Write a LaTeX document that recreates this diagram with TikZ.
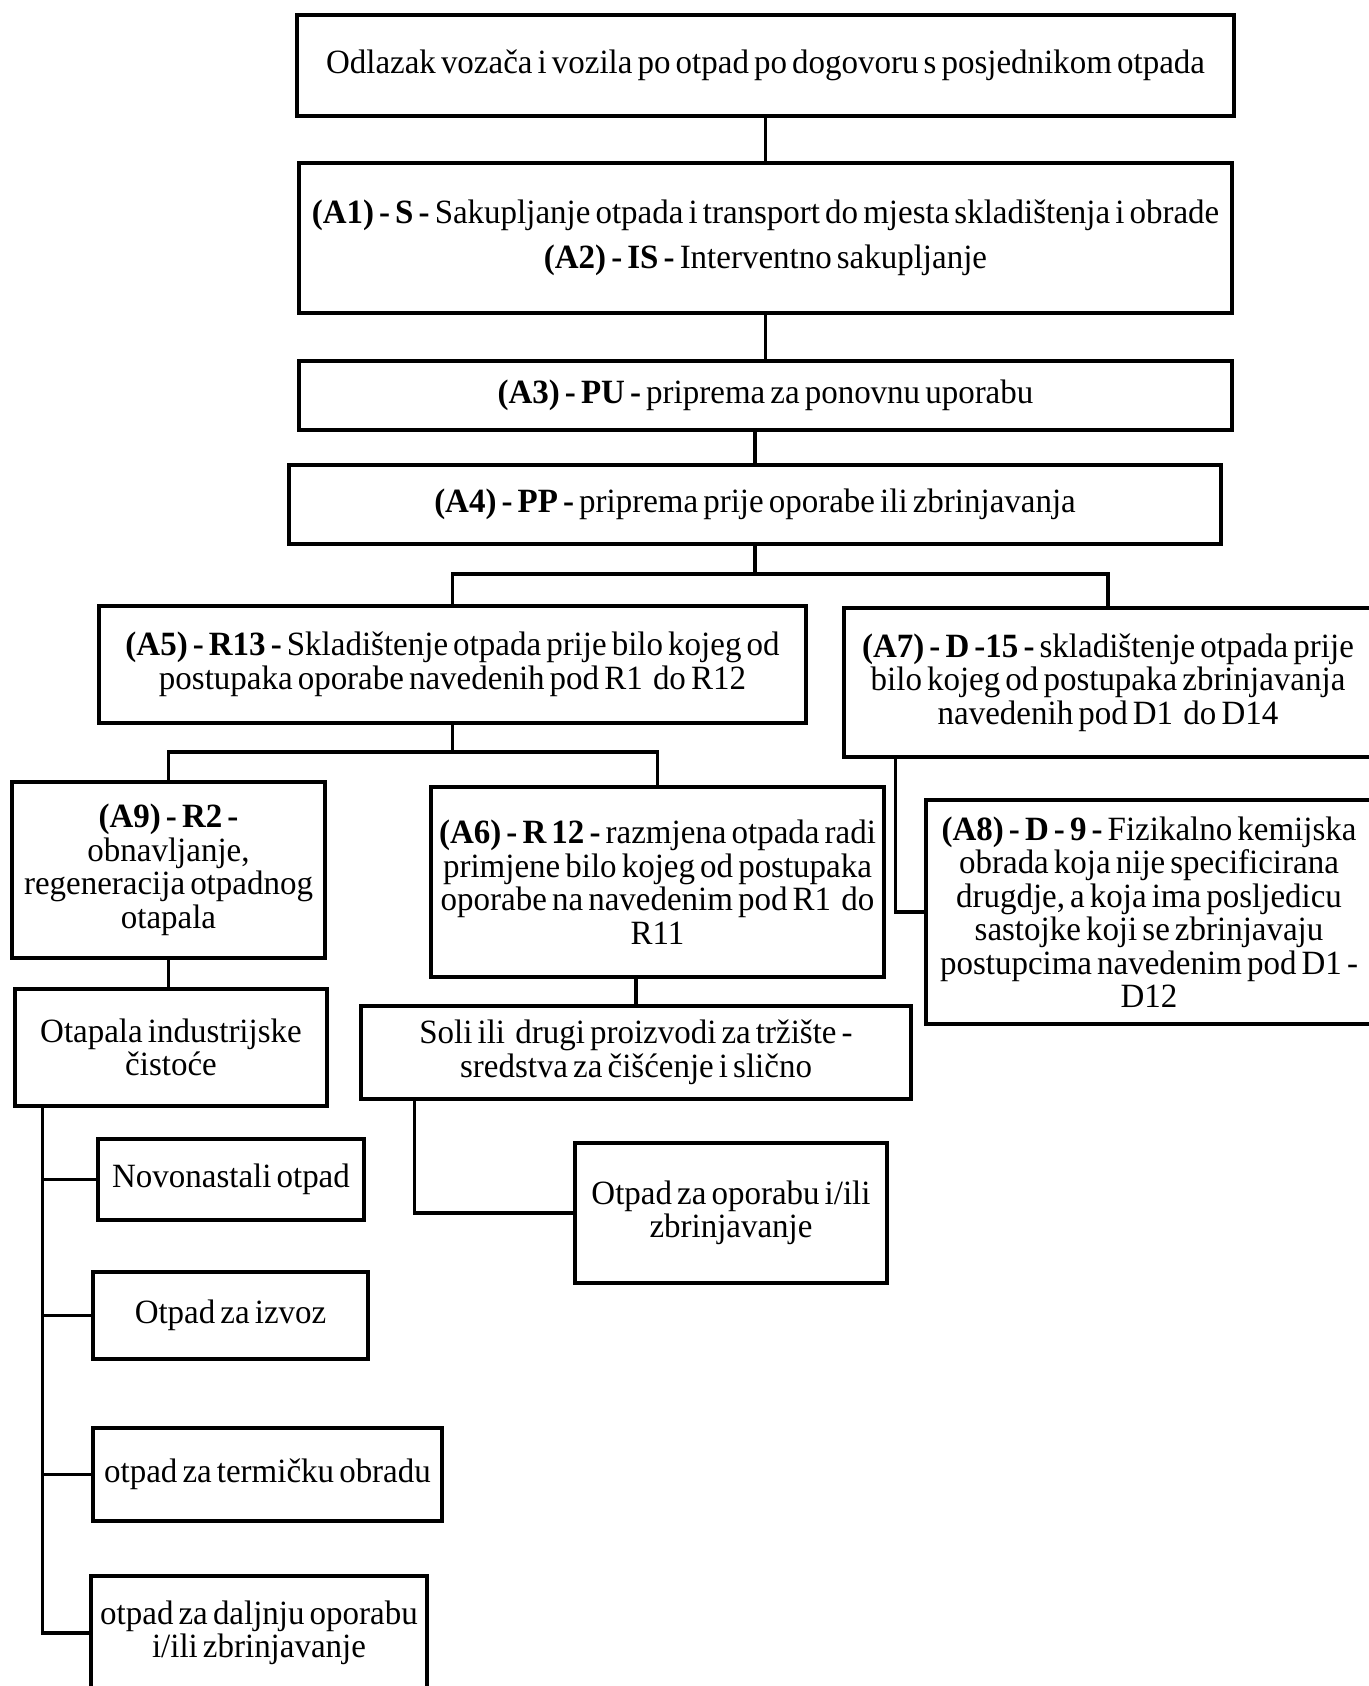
\documentclass[tikz,border=0pt]{standalone}
\usepackage{fontspec}
\setmainfont{Liberation Serif}[FakeStretch=0.97]
\usetikzlibrary{calc}
\newcommand\boxfont{\fontsize{17}{16.75}\selectfont\spaceskip 0.15em plus 0.05em\relax}

\begin{document}
\begin{tikzpicture}[x=0.5pt,y=-0.5pt,
  box/.style={draw, line width=1.75pt, align=center, inner sep=0pt, font=\boxfont},
  link/.style={line width=1.75pt}]
\useasboundingbox (0,0) rectangle (1369,1686);
% top row
\node [box, minimum width=468.5pt, minimum height=50.5pt] (top) at (765.5,65.5)
  {Odlazak vozača i vozila po otpad po dogovoru s posjednikom otpada};
\node [box, minimum width=466.5pt, minimum height=75pt] (a12) at (765.5,238)
  {\textbf{(A1) - S -} Sakupljanje otpada i transport do mjesta skladištenja i obrade\\[6pt]
   \textbf{(A2) - IS -} Interventno sakupljanje};
\node [box, minimum width=466.5pt, minimum height=34.5pt] (a3) at (765.5,395.5)
  {\textbf{(A3) - PU -} priprema za ponovnu uporabu};
\node [box, minimum width=466pt, minimum height=39.5pt] (a4) at (755,504.5)
  {\textbf{(A4) - PP -} priprema prije oporabe ili zbrinjavanja};
% R and D branches
\node [box, minimum width=353.5pt, minimum height=58.5pt] (a5) at (452.5,664.5)
  {\textbf{(A5) - R13 -} Skladištenje otpada prije bilo kojeg od\\
   postupaka oporabe navedenih pod R1~ do R12};
\node [box, minimum width=264pt, minimum height=74.5pt] (a7) at (1108,682.5)
  {\textbf{(A7) - D -15 -} skladištenje otpada prije\\
   bilo kojeg od postupaka zbrinjavanja\\ navedenih pod D1~ do D14};
\node [box, minimum width=156.5pt, minimum height=88pt] (a9) at (168.5,870)
  {\textbf{(A9) - R2 -}\\ obnavljanje,\\ regeneracija otpadnog\\ otapala};
\node [box, minimum width=226.5pt, minimum height=95pt] (a6) at (657.5,882)
  {\textbf{(A6) - R 12 -} razmjena otpada radi\\ primjene bilo kojeg od postupaka\\
   oporabe na navedenim pod R1~ do\\ R11};
\node [box, minimum width=223pt, minimum height=112pt] (a8) at (1149,912)
  {\textbf{(A8) - D - 9 -} Fizikalno kemijska\\ obrada koja nije specificirana\\
   drugdje, a koja ima posljedicu\\ sastojke koji se zbrinjavaju\\
   postupcima navedenim pod D1 -\\ D12};
% products
\node [box, minimum width=156pt, minimum height=58.5pt] (otapala) at (171,1047.5)
  {Otapala industrijske\\ čistoće};
\node [box, minimum width=275pt, minimum height=46.5pt] (soli) at (636,1052.5)
  {Soli ili~ drugi proizvodi za tržište -\\ sredstva za čišćenje i slično};
\node [box, minimum width=156pt, minimum height=70pt] (oporabu) at (731,1213)
  {Otpad za oporabu i/ili\\ zbrinjavanje};
\node [box, minimum width=133pt, minimum height=40.5pt] (novo) at (231,1179.5)
  {Novonastali otpad};
\node [box, minimum width=137.5pt, minimum height=43.5pt] (izvoz) at (230.5,1315.5)
  {Otpad za izvoz};
\node [box, minimum width=174.5pt, minimum height=46.5pt] (termicku) at (267.5,1474.5)
  {otpad za termičku obradu};
\node [box, minimum width=168pt, minimum height=57pt] (daljnju) at (259,1633)
  {otpad za daljnju oporabu\\ i/ili zbrinjavanje};

% connectors
\draw [link] (top.south) -- (a12.north);
\draw [link] (a12.south) -- (a3.north);
\draw [link] (a3.south -| a4.north) -- (a4.north);
\coordinate (s4) at (755,574);
\draw [link] (a4.south) -- (s4);
\draw [link] (a5.north) |- (s4) -| (a7.north);
\coordinate (s5) at (452.5,752);
\draw [link] (a5.south) -- (s5);
\draw [link] (a9.north) |- (s5) -| (a6.north);
\draw [link] (a7.south west) ++(53,0) |- (a8.west);
\draw [link] (a9.south) -- (a9.south |- otapala.north);
\draw [link] (soli.north) -- (soli.north |- a6.south);
\draw [link] (soli.south west) ++(55,0) |- (oporabu.west);
\coordinate (t0) at ($(otapala.south west)+(29,0)$);
\draw [link] (t0) |- (daljnju.west);
\foreach \n in {novo,izvoz,termicku}
  \draw [link] (t0 |- \n.west) -- (\n.west);
\end{tikzpicture}
\end{document}
